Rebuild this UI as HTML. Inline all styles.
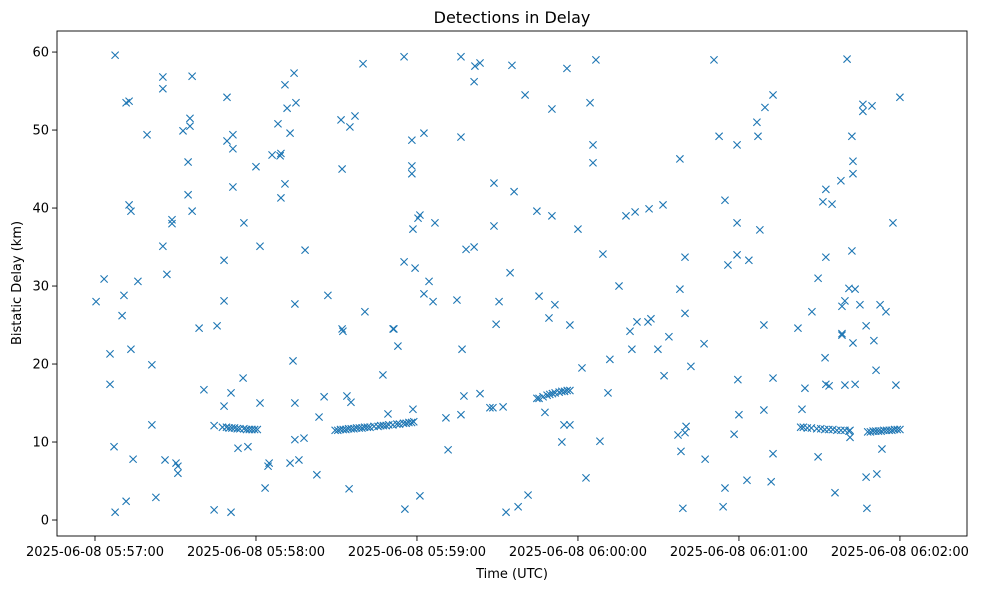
<!DOCTYPE html>
<html>
<head>
<meta charset="utf-8">
<style>
  html, body { margin: 0; padding: 0; background: #ffffff; }
  body { width: 985px; height: 590px; overflow: hidden; font-family: "Liberation Sans", "DejaVu Sans", sans-serif; }
  svg text { font-family: "DejaVu Sans", "Liberation Sans", sans-serif; fill: #000; }
</style>
</head>
<body>
<svg id="chart" width="985" height="590" viewBox="0 0 985 590" xmlns="http://www.w3.org/2000/svg">
  <rect x="0" y="0" width="985" height="590" fill="#ffffff"/>
  <text x="512" y="23" font-size="16" text-anchor="middle">Detections in Delay</text>
  <text x="512" y="578" font-size="13" text-anchor="middle">Time (UTC)</text>
  <text x="0" y="0" font-size="13" text-anchor="middle" transform="translate(21,283) rotate(-90)">Bistatic Delay (km)</text>
  <g id="marks"></g>
  <g id="axes"></g>
</svg>
<script>
// seconds since 2025-06-08 05:57:00 UTC
const times = [
  0.4, 3.4, 5.6, 5.6, 7.5, 7.1, 7.5, 10.1, 10.8, 11.6,
  12.7, 12.7, 13.4, 11.6, 13.4, 14.2, 16, 19.4, 21.2, 21.2,
  22.7, 25.3, 25.3, 25.3, 26.1, 26.8, 28.7, 28.7, 30.2, 30.9,
  30.9, 32.8, 34.7, 34.7, 35.4, 35.4, 36.2, 36.2, 38.8, 40.6,
  44.4, 44.4, 45.5, 48.1, 48.1, 48.1, 49.2, 49.2, 50.7, 51.4,
  51.4, 51.4, 50.7, 53.3, 55.2, 55.5, 57, 60, 61.5, 61.5,
  63.4, 64.5, 64.9, 66, 68.2, 69, 69.3, 69.3, 70.8, 70.8,
  71.6, 72.7, 72.7, 73.8, 74.2, 74.5, 74.9, 74.5, 74.5, 76,
  77.9, 78.3, 82.7, 83.5, 85.4, 86.8, 92.1, 92.4, 92.1, 91.7,
  93.9, 94.7, 95, 95.4, 96.9, 99.9, 100.6, 107.3, 109.2, 111.1,
  111.4, 112.9, 115.2, 115.2, 115.5, 118.1, 118.1, 118.1, 118.5, 119.3,
  118.5, 120.4, 121.1, 121.1, 122.6, 122.6, 124.5, 126, 126.7, 130.8,
  131.6, 134.9, 136.4, 136.4, 136.8, 136.4, 137.5, 138.3, 141.3, 141.3,
  141.6, 143.5, 143.5, 147.2, 148.3, 148.7, 148.7, 149.5, 150.6, 152.1,
  153.2, 154.7, 155.4, 156.2, 157.7, 160.3, 161.4, 164.7, 164.7, 165.5,
  167.7, 169.2, 170.3, 170.3, 171.4, 174, 174.8, 175.9, 177, 177,
  180, 181.5, 183, 184.5, 185.6, 185.6, 186.7, 188.2, 189.3, 191.2,
  191.9, 195.3, 197.9, 199.4, 200.1, 201.3, 202, 206.1, 206.5, 207.2,
  209.8, 211.7, 212.1, 213.9, 217.3, 218, 218, 219.1, 218.4, 219.9,
  219.9, 219.9, 220.3, 222.1, 227, 227.4, 230.7, 232.6, 234.1, 234.8,
  234.8, 235.9, 238.2, 239.3, 239.6, 239.3, 239.3, 240, 243, 243.7,
  246.7, 247.1, 247.8, 249.3, 249.7, 249.3, 252, 252.7, 252.7, 252.7,
  262, 263.5, 264.6, 267.2, 269.5, 269.5, 271.3, 272.1, 272.4, 272.4,
  273.6, 272.4, 274.7, 275.8, 278, 278.4, 278.4, 278.4, 279.5, 279.5,
  280.3, 281, 281.4, 281.4, 282.1, 282.1, 282.5, 282.5, 282.5, 283.3,
  283.3, 285.1, 286.2, 286.2, 287.7, 287.4, 287.4, 289.6, 290.3, 291.1,
  291.4, 292.6, 293.3, 294.8, 297.4, 298.5, 300,
  47.5, 49, 50, 51, 52, 53, 54, 55.5, 56.5, 57.5, 58.5, 59.5, 60.5,
  89.5, 90.5, 91.5, 92.5, 93.5, 94.5, 95.5, 96.5, 97.5, 98.5,
  99.5, 100.5, 101.5, 102.5, 104, 105.5, 106.5, 107.5, 108.5, 109.5,
  111, 112.5, 113.5, 115, 116, 117, 118, 118.8,
  165.5, 167, 168.5, 169.5, 170.5, 171.5, 173, 174, 175, 176, 177,
  263, 264, 265.5, 267, 269, 270.5, 272, 273.5, 275, 276.5, 278, 279.5, 281,
  288, 289, 290, 291, 292, 293, 294, 295, 296, 297, 298, 299, 300
];
// bistatic delay in km
const delays = [
  28.0, 30.9, 21.3, 17.4, 59.6, 9.4, 1.0, 26.2, 28.8, 53.5,
  53.7, 40.4, 39.6, 2.4, 21.9, 7.8, 30.6, 49.4, 12.2, 19.9,
  2.9, 56.8, 55.3, 35.1, 7.7, 31.5, 38.5, 38.0, 7.3, 6.0,
  6.9, 49.9, 45.9, 41.7, 51.5, 50.5, 56.9, 39.6, 24.6, 16.7,
  12.1, 1.3, 24.9, 33.3, 28.1, 14.6, 54.2, 48.6, 1.0, 49.4,
  47.6, 42.7, 16.3, 9.2, 18.2, 38.1, 9.4, 45.3, 35.1, 15.0,
  4.1, 6.9, 7.3, 46.8, 50.8, 46.7, 41.3, 47.0, 55.8, 43.1,
  52.8, 49.6, 7.3, 20.4, 57.3, 27.7, 53.5, 15.0, 10.3, 7.7,
  10.5, 34.6, 5.8, 13.2, 15.8, 28.8, 24.5, 24.2, 45.0, 51.3,
  15.9, 4.0, 50.4, 15.1, 51.8, 58.5, 26.7, 18.6, 13.6, 24.5,
  24.5, 22.3, 59.4, 33.1, 1.4, 48.7, 45.4, 44.4, 37.3, 32.3,
  14.2, 38.7, 39.1, 3.1, 49.6, 29.0, 30.6, 28.0, 38.1, 13.1,
  9.0, 28.2, 59.4, 49.1, 21.9, 13.5, 15.9, 34.7, 56.2, 35.0,
  58.2, 58.6, 16.2, 14.4, 14.4, 43.2, 37.7, 25.1, 28.0, 14.5,
  1.0, 31.7, 58.3, 42.1, 1.7, 54.5, 3.2, 39.6, 15.6, 28.7,
  13.8, 25.9, 52.7, 39.0, 27.6, 10.0, 12.2, 57.9, 12.2, 25.0,
  37.3, 19.5, 5.4, 53.5, 48.1, 45.8, 59.0, 10.1, 34.1, 16.3,
  20.6, 30.0, 39.0, 24.2, 21.9, 39.5, 25.4, 25.4, 39.9, 25.8,
  21.9, 40.4, 18.5, 23.5, 10.9, 46.3, 29.6, 1.5, 8.8, 33.7,
  26.5, 11.2, 12.0, 19.7, 22.6, 7.8, 59.0, 49.2, 1.7, 41.0,
  4.1, 32.7, 11.0, 48.1, 18.0, 38.1, 34.0, 13.5, 5.1, 33.3,
  51.0, 49.2, 37.2, 25.0, 52.9, 14.1, 4.9, 54.5, 18.2, 8.5,
  24.6, 14.2, 16.9, 26.7, 8.1, 31.0, 40.8, 20.8, 42.4, 17.4,
  17.2, 33.7, 40.5, 3.5, 43.5, 27.4, 23.7, 23.9, 28.1, 17.3,
  59.1, 29.7, 10.6, 11.5, 49.2, 34.5, 46.0, 44.4, 22.7, 29.6,
  17.4, 27.6, 52.4, 53.3, 1.5, 24.9, 5.5, 53.1, 23.0, 19.2,
  5.9, 27.6, 9.1, 26.7, 38.1, 17.3, 54.2,
  11.9, 11.9, 11.8, 11.8, 11.8, 11.7, 11.7, 11.7, 11.6, 11.6, 11.6, 11.6, 11.6,
  11.5, 11.5, 11.6, 11.6, 11.6, 11.7, 11.7, 11.7, 11.8, 11.8,
  11.8, 11.9, 11.9, 11.9, 12.0, 12.0, 12.1, 12.1, 12.1, 12.2,
  12.2, 12.3, 12.3, 12.4, 12.4, 12.5, 12.5, 12.6,
  15.6, 15.8, 16.0, 16.1, 16.2, 16.3, 16.4, 16.5, 16.5, 16.6, 16.6,
  11.9, 11.9, 11.8, 11.8, 11.7, 11.7, 11.6, 11.6, 11.6, 11.5, 11.5, 11.5, 11.4,
  11.3, 11.3, 11.4, 11.4, 11.4, 11.4, 11.5, 11.5, 11.5, 11.5, 11.6, 11.6, 11.6
];
const xTickValues = [0, 60, 120, 180, 240, 300];
const xTickLabels = ["2025-06-08 05:57:00", "2025-06-08 05:58:00", "2025-06-08 05:59:00", "2025-06-08 06:00:00", "2025-06-08 06:01:00", "2025-06-08 06:02:00"];
const yTickValues = [0, 10, 20, 30, 40, 50, 60];
const yTickLabels = ["0", "10", "20", "30", "40", "50", "60"];

const NS = "http://www.w3.org/2000/svg";
const plot = { left: 57, right: 967, top: 31, bottom: 536 };
const xDomain = [-14.16, 325.0];
const yDomain = [-2.05, 62.7];
function xScale(t) { return plot.left + (t - xDomain[0]) / (xDomain[1] - xDomain[0]) * (plot.right - plot.left); }
function yScale(d) { return plot.bottom - (d - yDomain[0]) / (yDomain[1] - yDomain[0]) * (plot.bottom - plot.top); }
function mk(tag, attrs, parent) {
  const e = document.createElementNS(NS, tag);
  for (const k in attrs) e.setAttribute(k, attrs[k]);
  parent.appendChild(e);
  return e;
}

const marks = document.getElementById("marks");
const axes = document.getElementById("axes");
const n = Math.min(times.length, delays.length);
for (let i = 0; i < n; i++) {
  const cx = xScale(times[i]), cy = yScale(delays[i]), r = 3.6;
  const p = mk("path", { d: `M${cx - r},${cy - r}L${cx + r},${cy + r}M${cx - r},${cy + r}L${cx + r},${cy - r}`, stroke: "#1f77b4", "stroke-width": "1.1", fill: "none" }, marks);
  
  
}

const frame = mk("rect", { x: plot.left, y: plot.top, width: plot.right - plot.left, height: plot.bottom - plot.top, fill: "none", stroke: "#000", "stroke-width": "0.9" }, axes);



xTickValues.forEach((v, i) => {
  const x = xScale(v);
  const t = mk("line", { x1: x, x2: x, y1: plot.bottom, y2: plot.bottom + 5, stroke: "#000", "stroke-width": "0.9" }, axes);
  
  
  const l = mk("text", { x: x, y: plot.bottom + 20, "font-size": "13", "text-anchor": "middle" }, axes);
  l.textContent = xTickLabels[i];
  
  
});
yTickValues.forEach((v, i) => {
  const y = yScale(v);
  const t = mk("line", { x1: plot.left - 5, x2: plot.left, y1: y, y2: y, stroke: "#000", "stroke-width": "0.9" }, axes);
  
  
  const l = mk("text", { x: plot.left - 8, y: y + 4.5, "font-size": "13", "text-anchor": "end" }, axes);
  l.textContent = yTickLabels[i];
  
  
});
</script>
</body>
</html>
